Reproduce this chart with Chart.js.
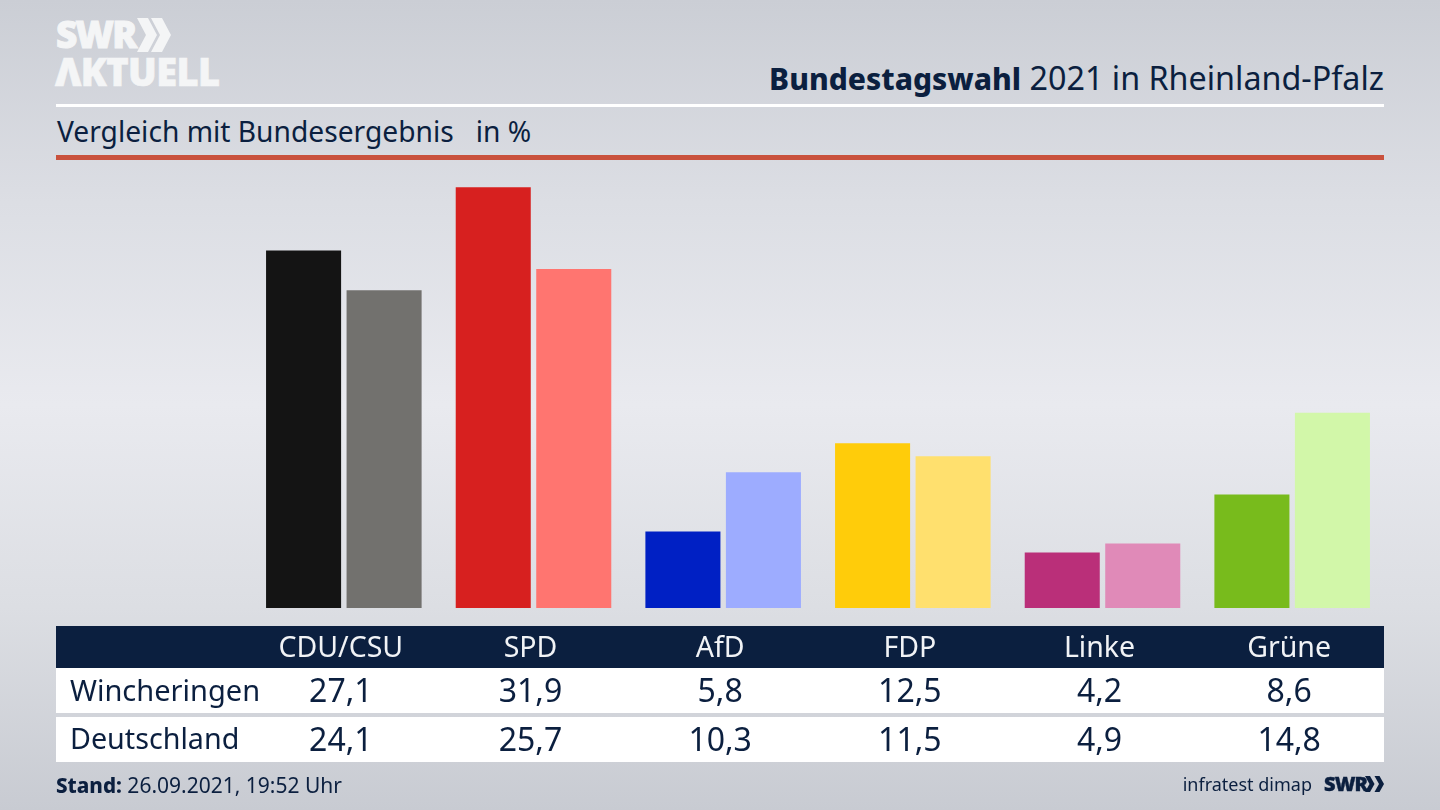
<!DOCTYPE html>
<html lang="de"><head><meta charset="utf-8">
<script src="https://cdn.jsdelivr.net/npm/chart.js@4"></script>
<style>
html,body{margin:0;padding:0}
body{width:1440px;height:810px;position:relative;overflow:hidden;font-family:"Noto Sans",sans-serif;color:#0b1f3f;
background:linear-gradient(180deg,#cbced5 0%,#dcdee4 25%,#e9eaef 50%,#dcdee3 75%,#c8cbd2 100%)}
#c{position:absolute;left:0;top:0;width:1440px;height:810px}
.a{position:absolute;white-space:nowrap;line-height:1}
.r{position:absolute;left:56px;width:1328px}
.cell{position:absolute;transform:translateX(-50%);white-space:nowrap;line-height:1}
</style></head><body>
<div class="a" style="left:56px;top:15px;font:800 37px/1 'Open Sans',sans-serif;color:#f4f5f6;letter-spacing:-1.8px;-webkit-text-stroke:1px #f4f5f6">SWR</div>
<svg class="a" style="left:137px;top:18px" width="35" height="34"><path d="M0 0 L11 0 L20 17 L11 34 L0 34 L9 17Z M14 0 L25 0 L34 17 L25 34 L14 34 L23 17Z" fill="#f4f5f6"/></svg>
<div class="a" style="left:55px;top:52px;font:800 38px/1 'Open Sans',sans-serif;color:#f4f5f6;letter-spacing:-.6px;-webkit-text-stroke:.6px #f4f5f6">ΛKTUELL</div>
<div class="a" style="right:56px;top:61px;font-size:32.3px;"><b style="font-weight:800;font-size:30px">Bundestagswahl</b> 2021 in Rheinland-Pfalz</div>
<div class="r" style="top:104px;height:3px;background:#fff"></div>
<div class="a" style="left:57px;top:117px;font-size:28.2px;white-space:pre">Vergleich mit Bundesergebnis   in %</div>
<div class="r" style="top:155px;height:5px;background:#c9513d"></div>
<div class="r" style="top:626px;height:42px;background:#0b1f3f"></div>
<div class="r" style="top:668px;height:45px;background:#fff"></div>
<div class="r" style="top:717px;height:45px;background:#fff"></div>
<canvas id="c" width="1440" height="810"></canvas>
<div id="table"></div>
<div class="a" style="left:70px;top:675px;font-size:29px" id="rowA"></div>
<div class="a" style="left:70px;top:724px;font-size:28.7px" id="rowB"></div>
<div class="a" style="left:56px;top:775px;font-size:21px"><b style="font-weight:800;font-size:20.6px">Stand:</b> 26.09.2021, 19:52 Uhr</div>
<div class="a" style="right:128px;top:775px;font-size:18px">infratest dimap</div>
<div class="a" style="left:1324px;top:774px;font:800 20px/1 'Open Sans',sans-serif;letter-spacing:-.9px;-webkit-text-stroke:.4px #0b1f3f">SWR</div>
<svg class="a" style="left:1365px;top:776px" width="20" height="16"><path d="M0 0 L5 0 L9.5 8 L5 16 L0 16 L4.5 8Z M9.5 0 L14.5 0 L19 8 L14.5 16 L9.5 16 L14 8Z" fill="#0b1f3f"/></svg>
<script>
const parties = ["CDU/CSU","SPD","AfD","FDP","Linke","Grüne"];
const regionLabel = "Wincheringen";
const nationLabel = "Deutschland";
const regionValues = [27.1,31.9,5.8,12.5,4.2,8.6];
const nationValues = [24.1,25.7,10.3,11.5,4.9,14.8];
const regionColors = ["#141414","#d7201f","#0020c4","#ffcc0a","#ba2f79","#78bb1c"];
const nationColors = ["#72716e","#ff7570","#9dacff","#ffe06e","#e08ab8","#d2f7a9"];
const de = v => v.toFixed(1).replace(".",",");
const chart = new Chart(document.getElementById("c"),{
  type:"bar",
  data:{labels:parties,datasets:[
    {label:regionLabel,data:regionValues,backgroundColor:regionColors,categoryPercentage:0.849,barPercentage:0.932},
    {label:nationLabel,data:nationValues,backgroundColor:nationColors,categoryPercentage:0.849,barPercentage:0.932}]},
  options:{responsive:false,animation:false,
    layout:{padding:{left:249,right:53,top:186,bottom:202}},
    plugins:{legend:{display:false},tooltip:{enabled:false},title:{display:false}},
    scales:{
      x:{display:false},
      y:{display:false,min:0,max:32}}}
});
document.getElementById("rowA").textContent = regionLabel;
document.getElementById("rowB").textContent = nationLabel;
const t = document.getElementById("table");
parties.forEach((p,i)=>{
  const x = chart.scales.x.getPixelForValue(i)-3;
  [[p,632,28.5,"#f1f3f6"],[de(regionValues[i]),674,32,"#0b1f3f"],[de(nationValues[i]),723,32,"#0b1f3f"]].forEach(([s,top,fs,col])=>{
    const d=document.createElement("div");d.className="cell";d.textContent=s;
    d.style.cssText=`left:${x}px;top:${top}px;font-size:${fs}px;color:${col}`;
    t.appendChild(d);
  });
});
</script>
</body></html>
